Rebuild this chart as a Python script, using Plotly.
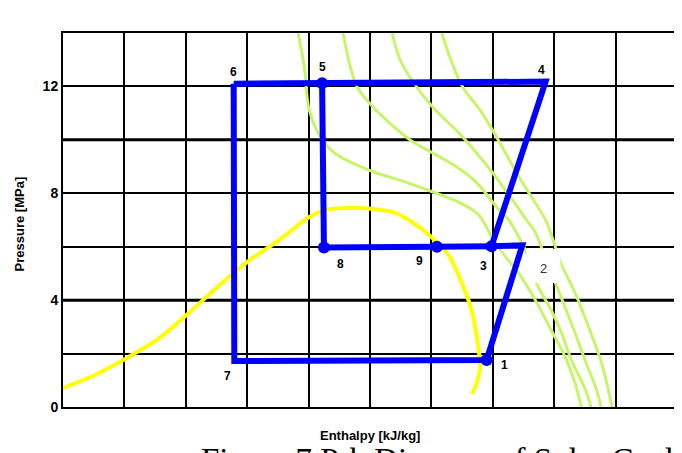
import plotly.graph_objects as go

# cycle states (enthalpy in grid units, pressure in MPa)
state_names = ["1", "2", "3", "4", "5", "6", "7", "8", "9"]
state_h = [6.90, 7.48, 6.98, 7.86, 4.22, 2.78, 2.79, 4.25, 6.09]
state_p = [1.76, 6.05, 6.02, 12.18, 12.12, 12.10, 1.72, 5.97, 6.00]

outer_path = ["6", "5", "4", "3", "2", "1", "7", "6"]
inner_path = ["5", "8", "9", "3"]
dot_states = ["5", "8", "9", "3", "1"]

# saturation dome
sat_h = [0.0, 0.52, 1.01, 1.57, 2.05, 2.55, 3.04, 3.52, 4.01, 4.29, 4.58,
         4.87, 5.42, 5.80, 6.07, 6.28, 6.44, 6.64, 6.74, 6.79, 6.74, 6.66]
sat_p = [0.71, 1.20, 1.80, 2.58, 3.52, 4.57, 5.50, 6.25, 7.11, 7.38, 7.45,
         7.45, 7.26, 6.74, 6.21, 5.69, 4.94, 3.74, 2.62, 1.50, 0.90, 0.49]

# isotherms
iso_40_h = [3.83, 3.93, 4.01, 4.22, 4.42, 4.98, 5.58, 6.07, 6.44, 6.77, 7.01,
            7.21, 7.42, 7.69, 7.95, 8.18, 8.34, 8.46]
iso_40_p = [14.0, 12.73, 11.12, 10.0, 9.51, 8.87, 8.42, 8.01, 7.67, 7.19, 6.25,
            5.62, 5.02, 4.01, 2.88, 1.87, 0.90, -0.19]
iso_60_h = [4.56, 4.68, 4.79, 5.05, 5.32, 5.65, 6.02, 6.41, 6.74, 7.06, 7.26,
            7.45, 7.58, 7.71, 7.95, 8.12, 8.28, 8.51, 8.62]
iso_60_p = [14.0, 12.73, 11.98, 11.23, 10.63, 10.0, 9.51, 8.99, 8.39, 7.49, 7.0,
            6.25, 5.62, 4.64, 3.63, 2.77, 1.76, 0.64, -0.19]
iso_80_h = [5.36, 5.49, 5.68, 6.02, 6.51, 7.00, 7.32, 7.55, 7.69, 7.79, 8.02,
            8.15, 8.34, 8.52, 8.69, 8.78]
iso_80_p = [14.0, 12.99, 12.24, 11.23, 10.11, 8.76, 7.75, 7.0, 6.55, 5.99, 4.64,
            3.89, 2.77, 1.65, 0.64, -0.19]
iso_70_h = [6.17, 6.30, 6.51, 6.79, 7.06, 7.39, 7.63, 7.86, 8.02, 8.10, 8.34,
            8.56, 8.77, 8.96]
iso_70_p = [14.0, 13.10, 11.98, 11.12, 10.11, 8.76, 7.86, 7.0, 5.99, 5.43, 4.27,
            3.0, 1.65, -0.19]

iso_labels = ["40", "60", "80", "70", "C"]
iso_label_h = [3.80, 4.48, 5.47, 6.33, 6.79]

p_ticks = [0, 2, 4, 6, 8, 10, 12, 14]
p_ticktext = ["0", "", "4", "", "8", "", "12", ""]

# pixel offsets of the state numbers
label_shift = {"1": (18, -5), "2": (21, -23), "3": (-8, -20), "4": (-4, 12),
               "5": (0, 16), "6": (0, 12), "7": (-7, -15), "8": (17, -16),
               "9": (-17, -14)}

idx = {n: i for i, n in enumerate(state_names)}
BOLD = dict(family="Liberation Sans", size=12, color="black", weight="bold")

fig = go.Figure()

green = "#c6f56a"
for hh, pp in [(iso_40_h, iso_40_p), (iso_60_h, iso_60_p),
               (iso_80_h, iso_80_p), (iso_70_h, iso_70_p)]:
    fig.add_trace(go.Scatter(x=hh, y=pp, mode="lines", cliponaxis=False,
                             line=dict(color=green, width=3, shape="spline"),
                             hoverinfo="skip"))

fig.add_trace(go.Scatter(x=sat_h, y=sat_p, mode="lines",
                         line=dict(color="#ffff00", width=4, shape="spline",
                                   smoothing=0.7),
                         hoverinfo="skip"))

for path in (outer_path, inner_path):
    fig.add_trace(go.Scatter(x=[state_h[idx[n]] for n in path],
                             y=[state_p[idx[n]] for n in path],
                             mode="lines", line=dict(color="#0000ff", width=6),
                             hoverinfo="skip"))

fig.add_trace(go.Scatter(x=[state_h[idx[n]] for n in dot_states],
                         y=[state_p[idx[n]] for n in dot_states],
                         mode="markers", marker=dict(color="#0000ff", size=12),
                         hoverinfo="skip"))

# white box behind label 2
fig.add_shape(type="rect", x0=7.55, x1=8.10, y0=4.64, y1=5.92,
              fillcolor="white", line=dict(width=0), layer="above")

for n in state_names:
    dx, dy = label_shift[n]
    f = dict(BOLD)
    if n == "2":
        f = dict(family="Liberation Sans", size=13, color="#333333")
    fig.add_annotation(x=state_h[idx[n]], y=state_p[idx[n]], text=n,
                       showarrow=False, xshift=dx, yshift=dy, font=f)

for t, h in zip(iso_labels, iso_label_h):
    fig.add_annotation(x=h, y=14.62, text=t, showarrow=False, font=BOLD)

# heavier grid lines
for yv in (4, 10):
    fig.add_shape(type="line", xref="paper", x0=0, x1=1, y0=yv, y1=yv,
                  line=dict(color="black", width=3), layer="below")

fig.add_annotation(xref="paper", yref="paper", x=0.5, y=-0.102,
                   text="Enthalpy [kJ/kg]", showarrow=False,
                   font=dict(BOLD, size=13))
fig.add_annotation(xref="paper", yref="paper", x=-0.086, y=0.49,
                   text="Pressure [MPa]", textangle=-90, showarrow=False,
                   font=dict(BOLD, size=13))
fig.add_annotation(xref="paper", yref="paper", x=0.221, y=-0.088,
                   xanchor="left", yanchor="top",
                   text="Figure 7 P-h Diagram of Solar Cycle", showarrow=False,
                   font=dict(family="Liberation Serif", size=33, color="black"))

# page body has an 8px margin, so the figure is a bit smaller than the window
fig.update_layout(
    width=674, height=445,
    margin=dict(l=55, r=3, t=25, b=46),
    paper_bgcolor="white", plot_bgcolor="white",
    showlegend=False,
)
fig.update_xaxes(range=[0, 10], dtick=1, showticklabels=False,
                 showgrid=True, gridcolor="black", gridwidth=2,
                 showline=True, linecolor="black", linewidth=2, mirror=True,
                 zeroline=False, ticks="")
fig.update_yaxes(range=[0, 14], tickvals=p_ticks, ticktext=p_ticktext,
                 showgrid=True, gridcolor="black", gridwidth=2,
                 showline=True, linecolor="black", linewidth=2, mirror=True,
                 zeroline=False, ticks="", tickfont=dict(BOLD, size=14))

fig.write_html("out.html")
